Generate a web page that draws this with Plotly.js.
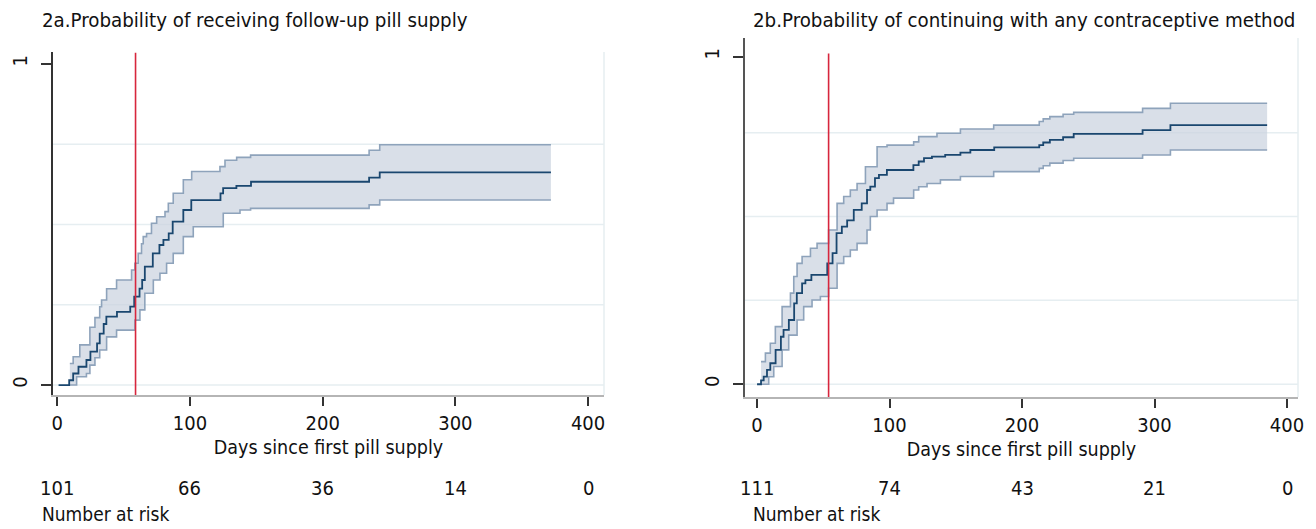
<!DOCTYPE html>
<html>
<head>
<meta charset="utf-8">
<script src="https://cdn.plot.ly/plotly-3.0.1.min.js"></script>
<style>html,body{margin:0;padding:0;background:#fff;}#chart{width:1316px;height:529px;}</style>
</head>
<body>
<div id="chart"></div>
<script>
// ---------- Panel 2a: receiving follow-up pill supply ----------
const aMeanDays = [1, 9, 12, 16, 22, 25, 30, 32, 35, 37, 45, 55, 58, 62, 64, 66, 72, 77, 80, 84, 87, 95, 101, 123, 125, 135, 146, 235, 243, 372];
const aMeanVals = [0, 0.015, 0.036, 0.057, 0.078, 0.104, 0.13, 0.16, 0.19, 0.213, 0.228, 0.244, 0.275, 0.30, 0.327, 0.369, 0.41, 0.436, 0.452, 0.472, 0.509, 0.545, 0.576, 0.597, 0.613, 0.62, 0.633, 0.646, 0.662, 0.662];
const aUpDays = [9.5, 12, 17, 24.6, 28.4, 32, 33.4, 37.2, 44.7, 56, 58.5, 61, 63.5, 64.8, 67.3, 71, 74.9, 81.2, 83.7, 87.4, 95, 101.3, 122.6, 126.4, 135.2, 145.7, 235, 243, 372];
const aUpVals = [0.067, 0.088, 0.125, 0.18, 0.21, 0.244, 0.265, 0.30, 0.327, 0.358, 0.379, 0.41, 0.44, 0.462, 0.472, 0.504, 0.524, 0.54, 0.566, 0.597, 0.639, 0.665, 0.68, 0.70, 0.709, 0.716, 0.731, 0.748, 0.748];
const aLoDays = [9.5, 14.6, 22, 24.6, 28.4, 32, 37.2, 44.7, 58.5, 62.3, 66, 72.4, 77.4, 82.4, 87.4, 95, 102.5, 125.1, 137.7, 145.7, 235, 243, 372];
const aLoVals = [0, 0.026, 0.036, 0.062, 0.085, 0.109, 0.15, 0.171, 0.202, 0.234, 0.286, 0.327, 0.348, 0.379, 0.41, 0.462, 0.493, 0.535, 0.545, 0.55, 0.561, 0.576, 0.576];
const aRisk = [101, 66, 36, 14, 0];
const aCutoff = 59;
const aGrid = [0, 0.25, 0.5, 0.75];

// ---------- Panel 2b: continuing with any contraceptive method ----------
const bMeanDays = [0, 3, 5, 7.5, 10, 14, 18, 20, 24, 28, 30, 34, 36.5, 41, 53, 57, 60, 64, 68, 73, 79, 83, 85.5, 89, 92, 98, 118, 122, 126, 132, 142, 153.5, 161, 179, 213, 216, 221, 231, 239, 291, 312, 385];
const bMeanVals = [0, 0.012, 0.023, 0.044, 0.064, 0.105, 0.145, 0.166, 0.196, 0.247, 0.278, 0.308, 0.318, 0.334, 0.369, 0.40, 0.461, 0.481, 0.50, 0.532, 0.552, 0.593, 0.603, 0.629, 0.639, 0.654, 0.669, 0.68, 0.69, 0.695, 0.70, 0.707, 0.715, 0.723, 0.730, 0.738, 0.746, 0.754, 0.764, 0.776, 0.791, 0.791];
const bUpDays = [3, 6.3, 10, 13.8, 18.9, 25.2, 27.7, 30.2, 34, 40.3, 45.3, 54, 60.4, 65.4, 70.4, 75.5, 81.8, 90.6, 98.1, 118.2, 122, 135.8, 153.5, 178.6, 213, 216, 221, 231, 239, 291, 312, 385];
const bUpVals = [0.069, 0.095, 0.125, 0.176, 0.237, 0.278, 0.329, 0.369, 0.39, 0.415, 0.43, 0.471, 0.552, 0.573, 0.593, 0.613, 0.664, 0.725, 0.73, 0.74, 0.756, 0.766, 0.779, 0.791, 0.802, 0.81, 0.817, 0.824, 0.83, 0.842, 0.858, 0.858];
const bLoDays = [3, 8.8, 12.6, 18.9, 23.9, 30.2, 35.2, 41.5, 47.8, 54, 60.4, 65.4, 70.4, 75.5, 83, 85.5, 90.6, 98.1, 103, 118.2, 122, 128.3, 138.4, 153.5, 178.6, 213, 216, 221, 231, 239, 291, 312, 385];
const bLoVals = [0, 0.023, 0.054, 0.105, 0.15, 0.196, 0.237, 0.257, 0.268, 0.293, 0.369, 0.39, 0.41, 0.43, 0.471, 0.512, 0.532, 0.552, 0.568, 0.593, 0.603, 0.613, 0.624, 0.634, 0.649, 0.659, 0.667, 0.675, 0.683, 0.69, 0.70, 0.715, 0.715];
const bRisk = [111, 74, 43, 21, 0];
const bCutoff = 54;
const bGrid = [0, 0.256, 0.512, 0.768];

const riskDays = [0, 100, 200, 300, 400];
const xTicks = [0, 100, 200, 300, 400];
const titles = ["2a.Probability of receiving follow-up pill supply", "2b.Probability of continuing with any contraceptive method"];
const xTitle = "Days since first pill supply";

const FONT = "'Liberation Sans Narrow', 'DejaVu Sans Condensed', 'Open Sans', sans-serif";
const NAVY = "#1a476f";
const BAND = "rgba(203,211,223,0.72)";
const BANDLINE = "#8ea3bb";
const RED = "#d7263d";
const TXT = '#111';

function panel(xa, ya, md, mv, ud, uv, ld, lv) {
  return [
    {x: ld, y: lv, xaxis: xa, yaxis: ya, type: 'scatter', mode: 'lines', line: {shape: 'hv', width: 0}, hoverinfo: 'skip', showlegend: false},
    {x: ud, y: uv, xaxis: xa, yaxis: ya, type: 'scatter', mode: 'lines', line: {shape: 'hv', width: 0}, fill: 'tonexty', fillcolor: BAND, hoverinfo: 'skip', showlegend: false},
    {x: ld, y: lv, xaxis: xa, yaxis: ya, type: 'scatter', mode: 'lines', line: {shape: 'hv', width: 1.6, color: BANDLINE}, showlegend: false},
    {x: ud, y: uv, xaxis: xa, yaxis: ya, type: 'scatter', mode: 'lines', line: {shape: 'hv', width: 1.6, color: BANDLINE}, showlegend: false},
    {x: md, y: mv, xaxis: xa, yaxis: ya, type: 'scatter', mode: 'lines', line: {shape: 'hv', width: 1.8, color: NAVY}, showlegend: false}
  ];
}

const data = [].concat(
  panel('x', 'y', aMeanDays, aMeanVals, aUpDays, aUpVals, aLoDays, aLoVals),
  panel('x2', 'y2', bMeanDays, bMeanVals, bUpDays, bUpVals, bLoDays, bLoVals)
);

const W = 1316, H = 529;
function xaxis(dom, range, yanchor) {
  return {
    domain: dom, range: range, anchor: yanchor,
    tickvals: xTicks, ticktext: xTicks.map(String),
    ticks: 'outside', ticklen: 9, tickwidth: 2, tickcolor: '#333',
    showline: true, linecolor: '#b5b5b5', linewidth: 1.5,
    showgrid: false, zeroline: false,
    tickfont: {family: FONT, size: 20, color: TXT},
    title: {text: xTitle, font: {family: FONT, size: 19.5, color: TXT}, standoff: 7}
  };
}
function yaxis(dom, range, xanchor, lc) {
  return {
    domain: dom, range: range, anchor: xanchor,
    tickvals: [0, 1], ticktext: ['0', '1'], tickangle: -90,
    ticks: 'outside', ticklen: 10, tickwidth: 2, tickcolor: '#333',
    showline: true, linecolor: lc, linewidth: 2,
    showgrid: false, zeroline: false,
    ticklabelstandoff: 6,
    tickfont: {family: FONT, size: 20, color: TXT}
  };
}

const shapes = [];
function gridShapes(xa, ya, vals) {
  vals.forEach(v => shapes.push({type: 'line', xref: xa + ' domain', yref: ya, x0: 0, x1: 1, y0: v, y1: v, line: {color: '#e6eef1', width: 1.5}, layer: 'below'}));
  shapes.push({type: 'line', xref: xa + ' domain', yref: ya + ' domain', x0: 1, x1: 1, y0: 0, y1: 1, line: {color: '#e6eef1', width: 1.5}, layer: 'below'});
}
gridShapes('x', 'y', aGrid);
gridShapes('x2', 'y2', bGrid);
shapes.push({type: 'line', xref: 'x', yref: 'y', x0: aCutoff, x1: aCutoff, y0: -0.031, y1: 1.035, line: {color: RED, width: 1.6}});
shapes.push({type: 'line', xref: 'x2', yref: 'y2', x0: bCutoff, x1: bCutoff, y0: -0.039, y1: 1.01, line: {color: RED, width: 1.6}});

const annotations = [];
annotations.push({text: titles[0], xref: 'paper', yref: 'paper', x: 40 / W, y: 1 - 20 / H, xanchor: 'left', yanchor: 'middle', showarrow: false, font: {family: FONT, size: 20.3, color: TXT}});
annotations.push({text: titles[1], xref: 'paper', yref: 'paper', x: 751 / W, y: 1 - 20 / H, xanchor: 'left', yanchor: 'middle', showarrow: false, font: {family: FONT, size: 20.3, color: TXT}});
riskDays.forEach((d, i) => {
  annotations.push({text: String(aRisk[i]), xref: 'x', yref: 'paper', x: d, y: 1 - 488 / H, xanchor: 'center', yanchor: 'middle', showarrow: false, font: {family: FONT, size: 20, color: TXT}});
  annotations.push({text: String(bRisk[i]), xref: 'x2', yref: 'paper', x: d, y: 1 - 488 / H, xanchor: 'center', yanchor: 'middle', showarrow: false, font: {family: FONT, size: 20, color: TXT}});
});
annotations.push({text: 'Number at risk', xref: 'paper', yref: 'paper', x: 40 / W, y: 1 - 514 / H, xanchor: 'left', yanchor: 'middle', showarrow: false, font: {family: FONT, size: 19, color: TXT}});
annotations.push({text: 'Number at risk', xref: 'paper', yref: 'paper', x: 751 / W, y: 1 - 514 / H, xanchor: 'left', yanchor: 'middle', showarrow: false, font: {family: FONT, size: 19, color: TXT}});

const layout = {
  width: W, height: H,
  margin: {l: 0, r: 0, t: 0, b: 0},
  paper_bgcolor: '#fff', plot_bgcolor: '#fff',
  showlegend: false,
  xaxis: xaxis([53 / W, 604 / W], [-3.2, 412], 'y'),
  yaxis: yaxis([1 - 395 / H, 1 - 52 / H], [-0.031, 1.037], 'x', '#333'),
  xaxis2: xaxis([745 / W, 1298 / W], [-9.1, 408.3], 'y2'),
  yaxis2: yaxis([1 - 397 / H, 1 - 38 / H], [-0.039, 1.057], 'x2', '#555'),
  shapes: shapes,
  annotations: annotations
};

Plotly.newPlot('chart', data, layout, {staticPlot: true, displayModeBar: false});
</script>
</body>
</html>
